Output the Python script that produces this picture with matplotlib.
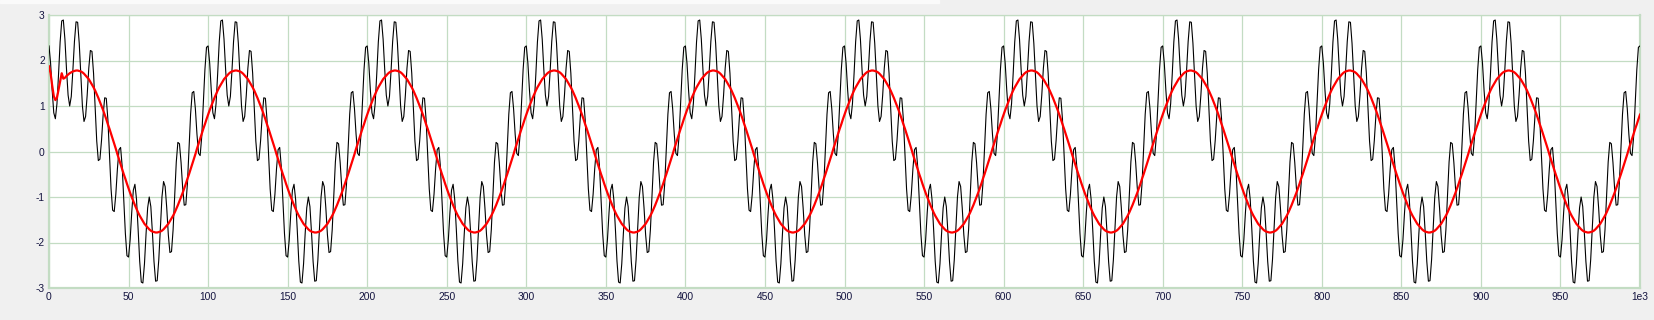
import numpy as np
import matplotlib
matplotlib.use("Agg")
import matplotlib.pyplot as plt
from matplotlib.patches import Rectangle

# one period (100 samples) of the raw signal; it repeats every 100 samples
black_period = [
    2.32, 1.94, 1.34, 0.85, 0.72, 1.05, 1.70, 2.41, 2.87, 2.89,
    2.47, 1.81, 1.24, 1.00, 1.21, 1.78, 2.42, 2.85, 2.84, 2.38,
    1.67, 1.00, 0.66, 0.77, 1.24, 1.83, 2.22, 2.20, 1.72, 0.97,
    0.23, -0.20, -0.17, 0.24, 0.79, 1.18, 1.17, 0.71, -0.05, -0.82,
    -1.29, -1.32, -0.94, -0.38, 0.04, 0.09, -0.33, -1.05, -1.80, -2.29,
    -2.32, -1.94, -1.34, -0.85, -0.72, -1.05, -1.70, -2.41, -2.87, -2.89,
    -2.47, -1.81, -1.24, -1.00, -1.21, -1.78, -2.42, -2.85, -2.84, -2.38,
    -1.67, -1.00, -0.66, -0.77, -1.24, -1.83, -2.22, -2.20, -1.72, -0.97,
    -0.23, 0.20, 0.17, -0.24, -0.79, -1.18, -1.17, -0.71, 0.05, 0.82,
    1.29, 1.32, 0.94, 0.38, -0.04, -0.09, 0.33, 1.05, 1.80, 2.29,
]

# filtered signal, first period (start-up transient in the first ~17 samples)
red_first = [
    1.87, 1.72, 1.45, 1.22, 1.13, 1.18, 1.36, 1.55, 1.72, 1.60,
    1.62, 1.66, 1.69, 1.72, 1.74, 1.76, 1.77, 1.78, 1.78, 1.77,
    1.76, 1.74, 1.71, 1.67, 1.63, 1.59, 1.53, 1.47, 1.41, 1.34,
    1.26, 1.18, 1.09, 1.00, 0.91, 0.81, 0.71, 0.60, 0.50, 0.39,
    0.28, 0.17, 0.06, -0.06, -0.17, -0.28, -0.39, -0.50, -0.60, -0.71,
    -0.81, -0.91, -1.00, -1.09, -1.18, -1.26, -1.34, -1.41, -1.47, -1.53,
    -1.59, -1.63, -1.67, -1.71, -1.74, -1.76, -1.77, -1.78, -1.78, -1.77,
    -1.76, -1.74, -1.71, -1.67, -1.63, -1.59, -1.53, -1.47, -1.41, -1.34,
    -1.26, -1.18, -1.09, -1.00, -0.91, -0.81, -0.71, -0.60, -0.50, -0.39,
    -0.28, -0.17, -0.06, 0.06, 0.17, 0.28, 0.39, 0.50, 0.60, 0.71,
]
# steady-state period of the filtered signal
red_period = [
    0.81, 0.91, 1.00, 1.09, 1.18, 1.26, 1.34, 1.41, 1.47, 1.53,
    1.59, 1.63, 1.67, 1.71, 1.74, 1.76, 1.77, 1.78, 1.78, 1.77,
    1.76, 1.74, 1.71, 1.67, 1.63, 1.59, 1.53, 1.47, 1.41, 1.34,
    1.26, 1.18, 1.09, 1.00, 0.91, 0.81, 0.71, 0.60, 0.50, 0.39,
    0.28, 0.17, 0.06, -0.06, -0.17, -0.28, -0.39, -0.50, -0.60, -0.71,
    -0.81, -0.91, -1.00, -1.09, -1.18, -1.26, -1.34, -1.41, -1.47, -1.53,
    -1.59, -1.63, -1.67, -1.71, -1.74, -1.76, -1.77, -1.78, -1.78, -1.77,
    -1.76, -1.74, -1.71, -1.67, -1.63, -1.59, -1.53, -1.47, -1.41, -1.34,
    -1.26, -1.18, -1.09, -1.00, -0.91, -0.81, -0.71, -0.60, -0.50, -0.39,
    -0.28, -0.17, -0.06, 0.06, 0.17, 0.28, 0.39, 0.50, 0.60, 0.71,
]
n_periods = 10

x_ticks = list(range(0, 1001, 50))
x_labels = [str(v) for v in x_ticks[:-1]] + ["1e3"]
y_ticks = [-3, -2, -1, 0, 1, 2, 3]

black = np.array(black_period * n_periods + black_period[:1])
red = np.array(red_first + red_period * (n_periods - 1) + red_period[:1])
t = np.arange(len(black))

BG = "#f0f0f0"
GRID = "#c3dcc3"
TXT = "#141440"

plt.rcParams['font.family'] = ['Liberation Sans', 'DejaVu Sans']

fig = plt.figure(figsize=(16.54, 3.2), dpi=100, facecolor=BG)
fig.patches.append(Rectangle((0, 1 - 2.5 / 320), 939 / 1654, 2.5 / 320,
                             transform=fig.transFigure, color="#fafafa", zorder=0))
ax = fig.add_axes([49 / 1654, 1 - 288 / 320, (1640 - 49) / 1654, (288 - 15) / 320])
ax.set_facecolor("white")

ax.plot(t, black, color="black", lw=0.8, zorder=3)
ax.plot(t, red, color="#ff0000", lw=1.6, zorder=4)

ax.set_xlim(0, 1000)
ax.set_ylim(-3, 3)
ax.set_xticks(x_ticks)
ax.set_xticklabels(x_labels)
ax.set_yticks(y_ticks)
ax.set_yticklabels([str(v) for v in y_ticks])
ax.grid(True, color=GRID, lw=0.9)
ax.tick_params(length=0, labelsize=7.4, labelcolor=TXT, pad=3)

for side in ["left", "bottom", "right"]:
    ax.spines[side].set_color(GRID)
    ax.spines[side].set_linewidth(1.6)
ax.spines["top"].set_color(GRID)
ax.spines["top"].set_linewidth(0.9)

fig.savefig("out.png", dpi=100, facecolor=BG)
